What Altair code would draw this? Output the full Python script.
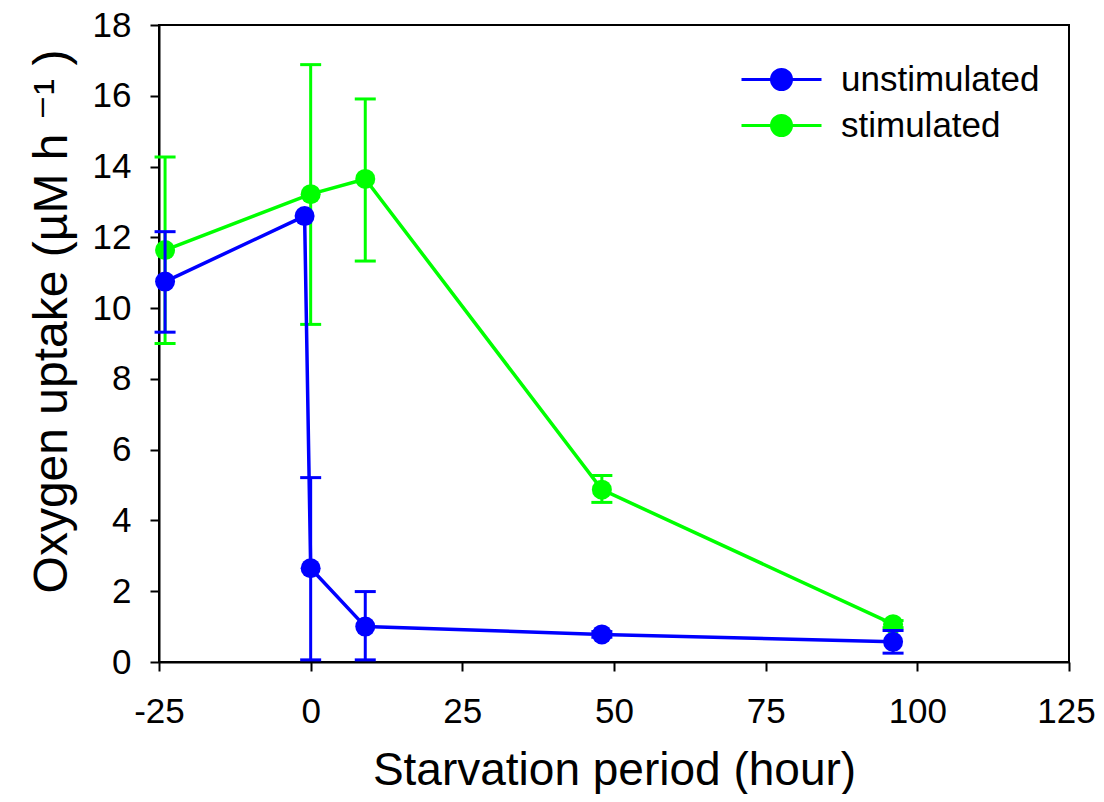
import altair as alt
import pandas as pd

# ---- data ----
series_names = ["unstimulated", "stimulated"]
series_colors = ["#0000FF", "#00FF00"]

unstim_hours = [-24, -1, 0, 9, 48, 96]
unstim_mean = [10.75, 12.6, 2.65, 1.0, 0.78, 0.57]
unstim_low = [9.32, None, 0.06, 0.06, 0.70, 0.25]
unstim_high = [12.16, None, 5.21, 1.99, 0.86, 0.89]

stim_hours = [-24, 0, 9, 48, 96]
stim_mean = [11.64, 13.22, 13.65, 4.87, 1.07]
stim_low = [9.00, 9.54, 11.33, 4.51, 0.97]
stim_high = [14.27, 16.88, 15.91, 5.27, 1.17]

x_ticks = [-25, 0, 25, 50, 75, 100, 125]
y_ticks = [0, 2, 4, 6, 8, 10, 12, 14, 16, 18]

FONT = "Liberation Sans, Arial, Helvetica, DejaVu Sans, sans-serif"


def frame(name, hours, mean, low, high):
    return pd.DataFrame({"series": name, "hour": hours, "mean": mean,
                         "low": low, "high": high})


df_unstim = frame(series_names[0], unstim_hours, unstim_mean, unstim_low, unstim_high)
df_stim = frame(series_names[1], stim_hours, stim_mean, stim_low, stim_high)

color_scale = alt.Scale(domain=series_names, range=series_colors)
x_scale = alt.Scale(domain=[-25, 125], nice=False, zero=False)
y_scale = alt.Scale(domain=[0, 18], nice=False)

legend_path = "M-4,0H4M1,0A1,1,0,1,1,-1,0A1,1,0,1,1,1,0Z"
legend = alt.Legend(
    title=None, orient="none", legendX=605, legendY=37,
    symbolType=legend_path, symbolSize=400, symbolStrokeWidth=3, symbolOpacity=1,
    labelFont=FONT, labelFontSize=35, labelColor="black", labelOffset=42,
    labelLimit=0, rowPadding=10, padding=0,
)

x_axis = alt.Axis(
    title="Starvation period (hour)", values=x_ticks, grid=False,
    domainColor="black", domainWidth=2, tickColor="black", tickWidth=2, tickSize=9,
    labelFont=FONT, labelFontSize=35, labelColor="black", labelPadding=51,
    labelExpr="'' + datum.value",
    labelOffset={"condition": {"test": "datum.value == 125", "value": -3}, "value": 0},
    labelBaseline="alphabetic", labelOverlap=False, labelFlush=False, labelBound=False,
    titleFont=FONT, titleFontSize=46, titleFontWeight="normal", titleColor="black",
    titleX=455, titleY=122, titleBaseline="alphabetic", titleAlign="center",
)
y_axis = alt.Axis(
    title="Oxygen uptake (µM h ⁻¹ )", values=y_ticks, grid=False,
    domainColor="black", domainWidth=2, tickColor="black", tickWidth=2, tickSize=9,
    labelFont=FONT, labelFontSize=35, labelColor="black", labelPadding=19,
    labelOverlap=False, labelFlush=False, labelBound=False,
    titleFont=FONT, titleFontSize=48, titleFontWeight="normal", titleColor="black",
    titleX=-93, titleY=296, titleAngle=270, titleBaseline="alphabetic", titleAlign="center",
)

X = alt.X("hour:Q", scale=x_scale, axis=x_axis)
COL = alt.Color("series:N", scale=color_scale, legend=legend)


def Y(field):
    return alt.Y(f"{field}:Q", scale=y_scale, axis=y_axis)


def layers(df):
    base = alt.Chart(df)
    err = base.transform_filter("isValid(datum.low)")
    rule = err.mark_rule(strokeWidth=3, opacity=1).encode(
        x=X, y=Y("low"), y2="high:Q", color=COL)
    cap_lo = err.mark_tick(orient="horizontal", size=21, thickness=3, opacity=1).encode(
        x=X, y=Y("low"), color=COL)
    cap_hi = err.mark_tick(orient="horizontal", size=21, thickness=3, opacity=1).encode(
        x=X, y=Y("high"), color=COL)
    line = base.mark_line(strokeWidth=3.5, opacity=1).encode(x=X, y=Y("mean"), color=COL)
    pts = base.mark_point(filled=True, size=400, opacity=1, shape="circle").encode(
        x=X, y=Y("mean"), color=COL)
    return [rule, cap_lo, cap_hi, line, pts]


chart = alt.layer(*layers(df_stim), *layers(df_unstim)).properties(
    width=910, height=637,
    autosize=alt.AutoSizeParams(type="none"),
    padding={"left": 151, "top": 17, "right": 27, "bottom": 132},
    background="white",
).configure_view(stroke="black", strokeWidth=2)

chart.save("out.html", embed_options={"renderer": "svg", "actions": False})
